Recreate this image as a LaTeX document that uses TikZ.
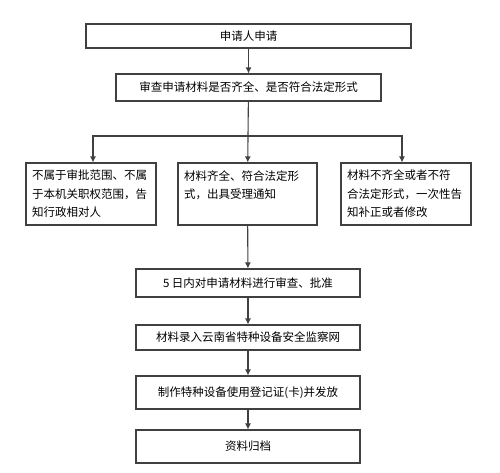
\documentclass[tikz,border=0pt]{standalone}
\usepackage{fontspec}
\usepackage{tikz}
\usetikzlibrary{arrows.meta}
\newfontfamily\cjk{Noto Sans CJK SC}

\begin{document}
\begin{tikzpicture}[x=1pt,y=-1pt,>={Latex[length=6pt,width=6pt]},
    box/.style={draw=black!75, line width=1.1pt, inner sep=6pt,
      font=\cjk\fontsize{11.5pt}{18.5pt}\selectfont},
    sidebox/.style={box, text width=118pt, align=left, minimum height=62pt},
    arr/.style={->, draw=black!75, line width=1.1pt}]
        \useasboundingbox (0,0) rectangle (500,472);
        % Demande et examen
        \node[box, minimum width=325pt, minimum height=24pt] (apply) at (248.5,36) {申请人申请};
        \node[box, minimum width=265pt, minimum height=27pt] (check) at (248.5,87.5) {审查申请材料是否齐全、是否符合法定形式};
        % Trois cas
        \node[sidebox] (left) at (91,194) {不属于审批范围、不属\\于本机关职权范围，告\\知行政相对人};
        \node[sidebox, text width=127pt] (mid) at (247.5,194) {材料齐全、符合法定形\\式，出具受理通知\\~};
        \node[sidebox] (right) at (406,194) {材料不齐全或者不符\\合法定形式，一次性告\\知补正或者修改};
        % Suite de la procedure
        \node[box, minimum width=224pt, minimum height=28pt] (review) at (248,283) {5 日内对申请材料进行审查、批准};
        \node[box, minimum width=224pt, minimum height=25pt] (input) at (248,337.5) {材料录入云南省特种设备安全监察网};
        \node[box, minimum width=224pt, minimum height=33pt] (cert) at (248,392.5) {制作特种设备使用登记证(卡)并发放};
        \node[box, minimum width=224pt, minimum height=33pt] (archive) at (248,446.5) {资料归档};
        % Fleches
        \coordinate (fork) at (248,136);
        \draw[arr] (apply) -- (check);
        \draw[draw=black!75, line width=1.1pt] (check) -- (fork);
        \draw[arr] (fork) -| ([xshift=2pt]left.north);
        \draw[arr] (fork) -- (mid);
        \draw[arr] (fork) -| ([xshift=-4pt]right.north);
        \draw[arr] (mid) -- (review);
        \draw[arr] (review) -- (input);
        \draw[arr] (input) -- (cert);
        \draw[arr] (cert) -- (archive);
    \end{tikzpicture}
\end{document}
